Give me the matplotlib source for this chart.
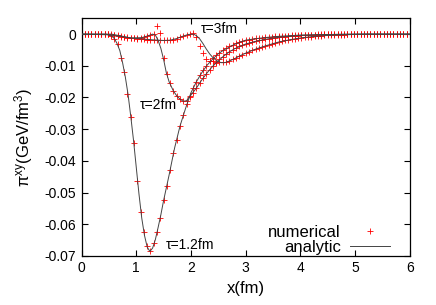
import numpy as np
import matplotlib
matplotlib.use("Agg")
import matplotlib.pyplot as plt

plt.rcParams.update({
    "font.family": ["Liberation Sans", "DejaVu Sans"],
    "mathtext.fontset": "custom",
    "mathtext.rm": "Liberation Sans",
    "mathtext.it": "Liberation Sans:italic",
    "axes.unicode_minus": False,
    "font.size": 10,
})

# ------------------------------------------------------------
# analytic curves
# ------------------------------------------------------------
x_an_12 = [0, 0.45, 0.55, 0.6, 0.65, 0.7, 0.75, 0.8, 0.85, 0.9,
           0.95, 1.0, 1.05, 1.1, 1.15, 1.2, 1.25, 1.3, 1.35, 1.4,
           1.45, 1.5, 1.6, 1.7, 1.8, 1.9, 2.0, 2.1, 2.2, 2.3,
           2.4, 2.5, 2.6, 2.8, 3.0, 3.2, 3.4, 3.6, 3.8, 4.0,
           4.3, 4.6, 5.0, 6.0]
y_an_12 = [0, 0, -0.0006, -0.0014, -0.003, -0.0052, -0.009, -0.0135, -0.019, -0.026,
           -0.0335, -0.042, -0.0505, -0.058, -0.0635, -0.0672, -0.0686, -0.0675, -0.0648, -0.061,
           -0.057, -0.0525, -0.0445, -0.036, -0.029, -0.0235, -0.0185, -0.015, -0.0121, -0.0097,
           -0.0078, -0.0062, -0.005, -0.0032, -0.0019, -0.0014, -0.0010, -0.0007, -0.0005, -0.0003,
           -0.0002, -0.0001, 0, 0]

x_an_2 = [0, 0.5, 0.7, 0.9, 1.1, 1.2, 1.3, 1.35, 1.4, 1.45,
          1.5, 1.55, 1.6, 1.68, 1.75, 1.8, 1.86, 1.92, 2.0, 2.1,
          2.2, 2.3, 2.4, 2.5, 2.6, 2.7, 2.8, 3.0, 3.2, 3.4,
          3.6, 3.8, 4.0, 4.3, 4.6, 5.0, 6.0]
y_an_2 = [0, -0.0002, -0.0007, -0.0012, -0.0011, -0.0006, 0.0, -0.0003, -0.002, -0.0045,
          -0.008, -0.0122, -0.015, -0.018, -0.0197, -0.0205, -0.0212, -0.021, -0.0192, -0.017,
          -0.0144, -0.0121, -0.0101, -0.0084, -0.0069, -0.0056, -0.0046, -0.0031, -0.0022, -0.0015,
          -0.0010, -0.0007, -0.0004, -0.0002, -0.0001, 0, 0]

x_an_3 = [0, 0.55, 0.7, 0.9, 1.1, 1.3, 1.5, 1.62, 1.74, 1.86,
          1.95, 2.05, 2.1, 2.16, 2.22, 2.28, 2.34, 2.4, 2.47, 2.55,
          2.62, 2.7, 2.8, 2.9, 3.0, 3.2, 3.4, 3.6, 3.8, 4.0,
          4.2, 4.5, 4.8, 5.2, 6.0]
y_an_3 = [0, 0, -0.0005, -0.0012, -0.0015, -0.0018, -0.002, -0.0019, -0.0014, -0.0006,
          -0.0001, 0.0, -0.0005, -0.0015, -0.003, -0.0047, -0.0062, -0.0074, -0.0084, -0.009,
          -0.009, -0.0085, -0.0077, -0.0068, -0.006, -0.0046, -0.0035, -0.0025, -0.0018, -0.0012,
          -0.0008, -0.0004, -0.0002, 0, 0]

# ------------------------------------------------------------
# numerical points, grid dx = 0.06 on [0, 6]
# ------------------------------------------------------------
x_num = np.linspace(0, 6, 101)

y_num_12 = [0.0] * 9 + [
    -0.0007, -0.0014, -0.0032, -0.0075, -0.0120, -0.0190, -0.0260, -0.0345, -0.0465, -0.0560,
    -0.0625, -0.0670, -0.0684, -0.0660, -0.0625, -0.0580, -0.0525, -0.0478, -0.0430, -0.0375,
    -0.0335, -0.0290, -0.0255, -0.0220, -0.0195, -0.0170, -0.0150, -0.0130, -0.0114, -0.0099,
    -0.0086, -0.0075, -0.0066, -0.0058, -0.0050, -0.0044, -0.0038, -0.0034, -0.0029, -0.0025,
    -0.0022, -0.0019, -0.0017, -0.0015, -0.0013, -0.0012, -0.0011, -0.0010, -0.0009, -0.0008,
    -0.0007, -0.0006, -0.0006, -0.0005, -0.0005, -0.0004, -0.0004, -0.0003, -0.0003, -0.0003,
    -0.0002, -0.0002, -0.0002, -0.0001, -0.0001, -0.0001, -0.0001] + [0.0] * 25

y_num_2 = [0.0] * 9 + [
    -0.0002, -0.0004, -0.0006, -0.0008, -0.0010, -0.0011, -0.0012, -0.0012, -0.0012, -0.0011,
    -0.0009, -0.0006, -0.0002, 0.0002, 0.0025, 0.0005, -0.0075, -0.0125, -0.0155, -0.0180,
    -0.0195, -0.0205, -0.0212, -0.0210, -0.0200, -0.0186, -0.0170, -0.0155, -0.0140, -0.0126,
    -0.0113, -0.0101, -0.0090, -0.0080, -0.0071, -0.0063, -0.0056, -0.0050, -0.0044, -0.0039,
    -0.0035, -0.0031, -0.0028, -0.0025, -0.0022, -0.0020, -0.0018, -0.0016, -0.0014, -0.0013,
    -0.0011, -0.0010, -0.0009, -0.0008, -0.0007, -0.0006, -0.0006, -0.0005, -0.0004, -0.0004,
    -0.0003, -0.0003, -0.0002, -0.0002, -0.0002, -0.0001, -0.0001, -0.0001, -0.0001] + [0.0] * 23

y_num_3 = [0.0] * 10 + [
    -0.0002, -0.0004, -0.0006, -0.0008, -0.0010, -0.0012, -0.0013, -0.0014, -0.0015, -0.0016,
    -0.0017, -0.0018, -0.0019, -0.0019, -0.0020, -0.0020, -0.0020, -0.0019, -0.0017, -0.0014,
    -0.0010, -0.0006, -0.0002, 0.0000, 0.0003, -0.0010, -0.0036, -0.0060, -0.0078, -0.0084,
    -0.0086, -0.0088, -0.0089, -0.0089, -0.0087, -0.0084, -0.0080, -0.0075, -0.0070, -0.0065,
    -0.0060, -0.0055, -0.0051, -0.0047, -0.0043, -0.0040, -0.0036, -0.0033, -0.0030, -0.0027,
    -0.0025, -0.0022, -0.0020, -0.0018, -0.0016, -0.0014, -0.0013, -0.0011, -0.0010, -0.0009,
    -0.0008, -0.0007, -0.0006, -0.0005, -0.0004, -0.0004, -0.0003, -0.0003, -0.0002, -0.0002,
    -0.0002, -0.0001, -0.0001, -0.0001, -0.0001] + [0.0] * 16

curves = [
    ("1.2", x_an_12, y_an_12, y_num_12),
    ("2", x_an_2, y_an_2, y_num_2),
    ("3", x_an_3, y_an_3, y_num_3),
]

# label positions (data coords)
tau_labels = [("τ=1.2fm", 1.54, -0.0665), ("τ=2fm", 1.07, -0.0223), ("τ=3fm", 2.17, 0.0016)]

# ------------------------------------------------------------
# figure
# ------------------------------------------------------------
fig = plt.figure(figsize=(4.36, 3.05), dpi=100)
ax = fig.add_axes([0.187, 0.161, 0.753, 0.779])

for i, (tau, xa, ya, yn) in enumerate(curves):
    ax.plot(x_num, yn, linestyle="none", marker="+", color="#ff0000",
            markersize=5, markeredgewidth=0.6,
            label="numerical" if i == 0 else None, zorder=2)
for i, (tau, xa, ya, yn) in enumerate(curves):
    ax.plot(xa, ya, color="#444444", linewidth=0.7,
            label="analytic" if i == 0 else None, zorder=3)

for txt, tx, ty in tau_labels:
    ax.text(tx, ty, txt, fontsize=10, ha="left", va="center")

ax.set_xlim(0, 6)
ax.set_ylim(-0.07, 0.005)
ax.set_xticks(range(0, 7))
ax.set_yticks([0, -0.01, -0.02, -0.03, -0.04, -0.05, -0.06, -0.07])
ax.set_yticklabels(["0", "-0.01", "-0.02", "-0.03", "-0.04", "-0.05", "-0.06", "-0.07"])
ax.tick_params(direction="in", top=True, right=True, length=4, width=0.8,
               labelsize=10, pad=4)
for sp in ax.spines.values():
    sp.set_linewidth(0.9)

ax.set_xlabel("x(fm)", fontsize=12, labelpad=4)
ax.set_ylabel(r"π$^{\mathrm{xy}}$(GeV/fm$^{3}$)", fontsize=12, labelpad=7)

leg = ax.legend(loc="lower right", bbox_to_anchor=(0.939, 0.005), frameon=False,
                markerfirst=False, fontsize=12, handlelength=2.4, handletextpad=0.55,
                labelspacing=0.0, borderpad=0, borderaxespad=0, numpoints=1)

fig.savefig("out.png", dpi=100)
